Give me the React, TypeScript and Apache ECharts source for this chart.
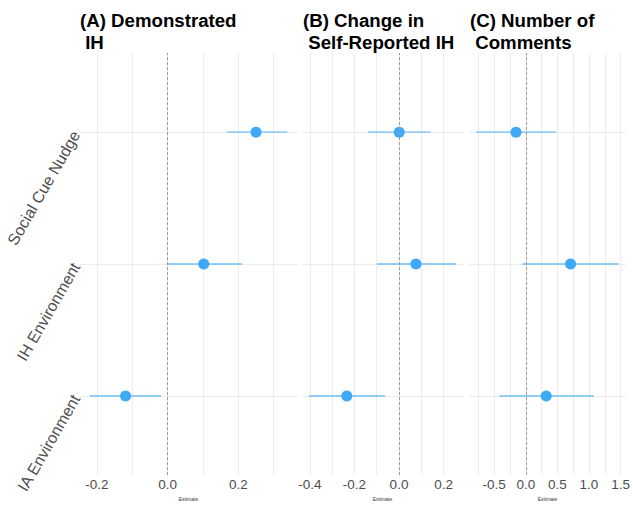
import React, { useEffect, useRef } from 'react';
import * as echarts from 'echarts';

const categories = ['IA Environment', 'IH Environment', 'Social Cue Nudge'];
const panelTitles = ['(A) Demonstrated\n IH', '(B) Change in\n Self-Reported IH', '(C) Number of\n Comments'];

const estA = [-0.119, 0.102, 0.25];
const lowA = [-0.22, 0.0, 0.167];
const highA = [-0.018, 0.21, 0.338];

const estB = [-0.234, 0.076, 0.001];
const lowB = [-0.404, -0.099, -0.139];
const highB = [-0.063, 0.256, 0.142];

const estC = [0.323, 0.708, -0.154];
const lowC = [-0.415, -0.057, -0.785];
const highC = [1.077, 1.47, 0.477];

const labelsA = [-0.2, 0, 0.2];
const gridValsA = [-0.2, -0.1, 0, 0.1, 0.2, 0.3];
const labelsB = [-0.4, -0.2, 0, 0.2];
const gridValsB = [-0.4, -0.3, -0.2, -0.1, 0, 0.1, 0.2];
const labelsC = [-0.5, 0, 0.5, 1, 1.5];
const gridValsC = [-0.75, -0.5, -0.25, 0, 0.25, 0.5, 0.75, 1, 1.25, 1.5];

const rowVals = [0, 1, 2];

const FONT = '"Liberation Sans", Arial, Helvetica, sans-serif';
const POINT = '#3fa9f5';
const BAR = '#63b8f6';
const GRIDC = '#ececec';

function range(lo: number[], hi: number[]) {
  const a = Math.min(...lo);
  const b = Math.max(...hi);
  const pad = (b - a) * 0.05;
  return [a - pad, b + pad];
}

export default function App() {
  const ref = useRef<HTMLDivElement>(null);
  useEffect(() => {
    if (!ref.current) return;
    const chart = echarts.init(ref.current, undefined, { renderer: 'svg' });
    const panels = [
      { est: estA, low: lowA, high: highA, labels: labelsA, gv: gridValsA },
      { est: estB, low: lowB, high: highB, labels: labelsB, gv: gridValsB },
      { est: estC, low: lowC, high: highC, labels: labelsC, gv: gridValsC },
    ];
    const grids = [
      { left: 80, top: 53, width: 217, height: 432 },
      { left: 301.5, top: 53, width: 162, height: 432 },
      { left: 469, top: 53, width: 161.5, height: 432 },
    ];
    const titleLeft = [80, 303, 470];
    const fmt = (v: number) => v.toFixed(1);
    const option: any = {
      animation: false,
      backgroundColor: '#ffffff',
      textStyle: { fontFamily: FONT },
      title: panelTitles.map((t, i) => ({
        text: t,
        left: titleLeft[i],
        top: 9,
        padding: 0,
        textStyle: { fontSize: 18.67, fontWeight: 'bold', color: '#000', lineHeight: 22, fontFamily: FONT },
      })),
      grid: grids,
      xAxis: panels.map((p, i) => {
        const [mn, mx] = range(p.low, p.high);
        return {
          type: 'value',
          gridIndex: i,
          min: mn,
          max: mx,
          name: 'Estimate',
          nameLocation: 'middle',
          nameGap: 15,
          nameTextStyle: { fontSize: 5, color: '#333', fontFamily: FONT },
          axisLine: { show: false },
          axisTick: { show: false, customValues: p.gv },
          axisLabel: { customValues: p.labels, formatter: fmt, fontSize: 13.5, color: '#4d4d4d', margin: 2, fontFamily: FONT },
          splitLine: { show: true, lineStyle: { color: GRIDC, width: 1 } },
        };
      }),
      yAxis: panels.map((p, i) => ({
        type: 'value',
        gridIndex: i,
        min: -0.6,
        max: 2.6,
        axisLine: { show: false },
        axisTick: { show: false, customValues: rowVals },
        axisLabel: {
          show: i === 0,
          customValues: rowVals,
          formatter: (v: number) => categories[Math.round(v)] ?? '',
          rotate: 60,
          fontSize: 16,
          color: '#4d4d4d',
          margin: 4,
          fontFamily: FONT,
        },
        splitLine: { show: true, lineStyle: { color: GRIDC, width: 1 } },
      })),
      series: panels.flatMap((p, i) => [
        {
          type: 'custom',
          xAxisIndex: i,
          yAxisIndex: i,
          z: 2,
          encode: { x: [0, 2], y: 1 },
          data: p.low.map((lo, k) => [lo, rowVals[k], p.high[k]]),
          renderItem: (params: any, api: any) => {
            const p1 = api.coord([api.value(0), api.value(1)]);
            const p2 = api.coord([api.value(2), api.value(1)]);
            return {
              type: 'line',
              shape: { x1: p1[0], y1: p1[1], x2: p2[0], y2: p2[1] },
              style: { stroke: BAR, lineWidth: 1.4, opacity: 0.9 },
            };
          },
          markLine: {
            silent: true,
            symbol: ['none', 'none'],
            label: { show: false },
            lineStyle: { color: '#9a9a9a', type: [3, 2], width: 1 },
            data: [{ xAxis: 0 }],
          },
        },
        {
          type: 'scatter',
          xAxisIndex: i,
          yAxisIndex: i,
          z: 3,
          symbolSize: 11,
          itemStyle: { color: POINT, opacity: 1 },
          data: p.est.map((e, k) => [e, rowVals[k]]),
        },
      ]),
    };
    chart.setOption(option);
    return () => chart.dispose();
  }, []);
  return <div ref={ref} style={{ position: 'absolute', left: 0, top: 0, width: 633, height: 506 }} />;
}
